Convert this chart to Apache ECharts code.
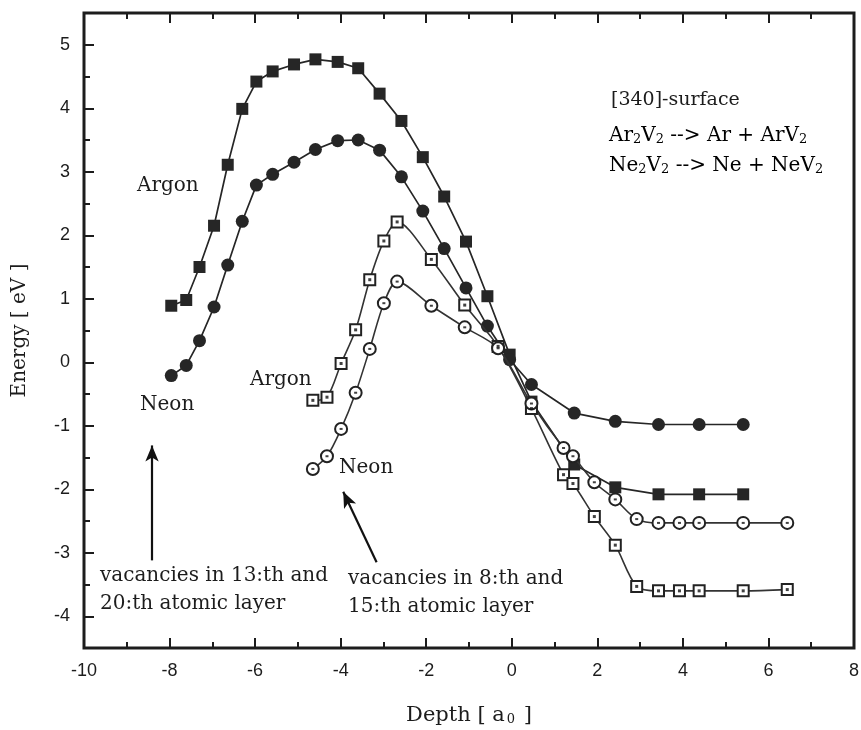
<!DOCTYPE html>
<html>
<head>
<meta charset="utf-8">
<script src="https://cdn.jsdelivr.net/npm/echarts@6/dist/echarts.min.js"></script>
<style>
  html, body { margin: 0; padding: 0; background: #fff; }
  #chart { width: 861px; height: 730px; }
</style>
</head>
<body>
<div id="chart"></div>
<script>
// Vacancy pair in the 13th and 20th atomic layers
const depthDeep = [-7.96, -7.61, -7.30, -6.96, -6.64, -6.30, -5.97, -5.59, -5.09, -4.59, -4.07, -3.59, -3.09, -2.58, -2.08, -1.58, -1.07, -0.57, -0.05, 0.46, 1.46, 2.42, 3.43, 4.38, 5.41];
const argonDeep = [0.89, 0.98, 1.50, 2.15, 3.11, 3.99, 4.42, 4.58, 4.69, 4.77, 4.73, 4.63, 4.23, 3.80, 3.23, 2.61, 1.90, 1.04, 0.12, -0.62, -1.61, -1.97, -2.08, -2.08, -2.08];
const neonDeep = [-0.21, -0.05, 0.34, 0.87, 1.53, 2.22, 2.79, 2.96, 3.15, 3.35, 3.49, 3.50, 3.34, 2.92, 2.38, 1.79, 1.17, 0.57, 0.04, -0.35, -0.80, -0.93, -0.98, -0.98, -0.98];

// Vacancy pair in the 8th and 15th atomic layers
const depthShallow = [-4.65, -4.32, -3.99, -3.65, -3.32, -2.99, -2.68, -1.88, -1.10, -0.32, 0.46, 1.21, 1.43, 1.93, 2.42, 2.92, 3.43, 3.92, 4.38, 5.41, 6.44];
const argonShallow = [-0.60, -0.55, -0.02, 0.51, 1.30, 1.91, 2.21, 1.62, 0.90, 0.25, -0.73, -1.77, -1.91, -2.43, -2.88, -3.53, -3.60, -3.60, -3.60, -3.60, -3.58];
const neonShallow = [-1.68, -1.48, -1.05, -0.48, 0.21, 0.93, 1.27, 0.89, 0.55, 0.22, -0.65, -1.35, -1.48, -1.89, -2.16, -2.47, -2.53, -2.53, -2.53, -2.53, -2.53];

// Axis ticks
const yLabelTicks = [-4, -3, -2, -1, 0, 1, 2, 3, 4, 5];
const yHalfTicks = [-3.5, -2.5, -1.5, -0.5, 0.5, 1.5, 2.5, 3.5, 4.5];

// Annotation arrows: [tailDepth, tailEnergy, tipDepth, tipEnergy]
const arrowDeep = [-8.41, -3.12, -8.41, -1.31];
const arrowShallow = [-3.16, -3.15, -3.94, -2.04];

const INK = '#1c1c1c';
const SERIF = 'DejaVu Serif';
const SANS = 'Liberation Sans';

const pairs = (xs, ys) => xs.map((x, i) => [x, ys[i]]);

const chart = echarts.init(document.getElementById('chart'), null, { renderer: 'canvas' });

const xAxisBase = {
  type: 'value', min: -10, max: 8, interval: 2,
  axisLine: { show: false, onZero: false },
  splitLine: { show: false },
  axisTick: { show: true, inside: true, length: 10, lineStyle: { color: INK, width: 2 } },
  minorTick: { show: true, splitNumber: 2, length: 6, lineStyle: { color: INK, width: 2 } }
};

const subRich = {
  t: { fontFamily: SERIF, fontSize: 21, color: INK, lineHeight: 28, verticalAlign: 'bottom' },
  s: { fontFamily: SERIF, fontSize: 13, color: INK, lineHeight: 8, verticalAlign: 'bottom', padding: [0, 2, 0, 2] }
};
const noteRich = {
  t: { fontFamily: SERIF, fontSize: 20, color: INK, lineHeight: 28, verticalAlign: 'bottom' },
  s: { fontFamily: SERIF, fontSize: 13, color: INK, lineHeight: 8, verticalAlign: 'bottom' }
};

function note(text, x, y, size) {
  return { type: 'text', x: x, y: y, style: { text: text, fontFamily: SERIF, fontSize: size || 20, fill: INK, verticalAlign: 'middle' } };
}
function richNote(text, x, y) {
  return { type: 'text', x: x, y: y, style: { text: text, rich: noteRich, verticalAlign: 'middle' } };
}

const option = {
  animation: false,
  backgroundColor: '#fff',
  grid: {
    left: 84, right: 7, top: 13, bottom: 82,
    outerBoundsMode: 'none', containLabel: false,
    show: true, borderColor: INK, borderWidth: 3, backgroundColor: 'transparent'
  },
  xAxis: [
    Object.assign({}, xAxisBase, {
      position: 'bottom',
      name: '{t|Depth [ a}{s|0}{t| ]}',
      nameLocation: 'middle', nameGap: 50,
      nameTextStyle: { rich: subRich },
      axisLabel: { show: true, margin: 14, fontFamily: SANS, fontSize: 18, color: INK }
    }),
    Object.assign({}, xAxisBase, { position: 'top', axisLabel: { show: false } })
  ],
  yAxis: [
    {
      type: 'value', min: -4.5, max: 5.5, position: 'left',
      axisLine: { show: false, onZero: false }, splitLine: { show: false },
      axisTick: { show: true, inside: true, length: 10, customValues: yLabelTicks, lineStyle: { color: INK, width: 2 } },
      axisLabel: { show: true, customValues: yLabelTicks, margin: 14, fontFamily: SANS, fontSize: 18, color: INK },
      name: 'Energy [ eV ]', nameLocation: 'middle', nameGap: 54, nameRotate: 90,
      nameTextStyle: { fontFamily: SERIF, fontSize: 20, color: INK }
    },
    {
      type: 'value', min: -4.5, max: 5.5, position: 'left', offset: 0,
      axisLine: { show: false, onZero: false }, splitLine: { show: false },
      axisTick: { show: true, inside: true, length: 6, customValues: yHalfTicks, lineStyle: { color: INK, width: 2 } },
      axisLabel: { show: false }
    }
  ],
  series: [
    {
      name: 'Argon 13/20', type: 'line', data: pairs(depthDeep, argonDeep),
      symbol: 'rect', symbolSize: 12,
      itemStyle: { color: '#262626' },
      lineStyle: { color: '#262626', width: 1.7 },
      emphasis: { disabled: true }, z: 3,
      markLine: {
        silent: true, symbol: ['none', 'arrow'], symbolSize: [10, 16], animation: false,
        label: { show: false },
        lineStyle: { color: '#111', width: 2.2, type: 'solid' },
        data: [
          [{ coord: [arrowDeep[0], arrowDeep[1]] }, { coord: [arrowDeep[2], arrowDeep[3]] }],
          [{ coord: [arrowShallow[0], arrowShallow[1]] }, { coord: [arrowShallow[2], arrowShallow[3]] }]
        ]
      }
    },
    {
      name: 'Neon 13/20', type: 'line', data: pairs(depthDeep, neonDeep),
      symbol: 'circle', symbolSize: 13,
      itemStyle: { color: '#262626' },
      lineStyle: { color: '#262626', width: 1.7 },
      emphasis: { disabled: true }, z: 3
    },
    {
      name: 'Argon 8/15', type: 'line', data: pairs(depthShallow, argonShallow),
      symbol: 'rect', symbolSize: 11, smooth: 0.3,
      itemStyle: { color: '#fff', borderColor: '#222', borderWidth: 2 },
      lineStyle: { color: '#333', width: 1.6 },
      emphasis: { disabled: true }, z: 4
    },
    {
      name: 'Neon 8/15', type: 'line', data: pairs(depthShallow, neonShallow),
      symbol: 'circle', symbolSize: 12, smooth: 0.3,
      itemStyle: { color: '#fff', borderColor: '#222', borderWidth: 2 },
      lineStyle: { color: '#333', width: 1.6 },
      emphasis: { disabled: true }, z: 4
    },
    {
      // centre dots of the open markers
      type: 'scatter', data: pairs(depthShallow, argonShallow),
      symbol: 'rect', symbolSize: [3, 3], itemStyle: { color: '#111' },
      silent: true, z: 6
    },
    {
      type: 'scatter', data: pairs(depthShallow, neonShallow),
      symbol: 'rect', symbolSize: [3, 2], itemStyle: { color: '#111' },
      silent: true, z: 6
    }
  ],
  graphic: [
    note('Argon', 137, 186),
    note('Neon', 140, 405),
    note('Argon', 250, 380),
    note('Neon', 339, 468),
    note('vacancies in 13:th and', 100, 576),
    note('20:th atomic layer', 100, 604),
    note('vacancies in 8:th and', 348, 579),
    note('15:th atomic layer', 348, 607),
    note('[340]-surface', 611, 100, 19),
    richNote('{t|Ar}{s|2}{t|V}{s|2}{t| --> Ar + ArV}{s|2}', 609, 132),
    richNote('{t|Ne}{s|2}{t|V}{s|2}{t| --> Ne + NeV}{s|2}', 609, 162)
  ]
};

chart.setOption(option);
</script>
</body>
</html>
